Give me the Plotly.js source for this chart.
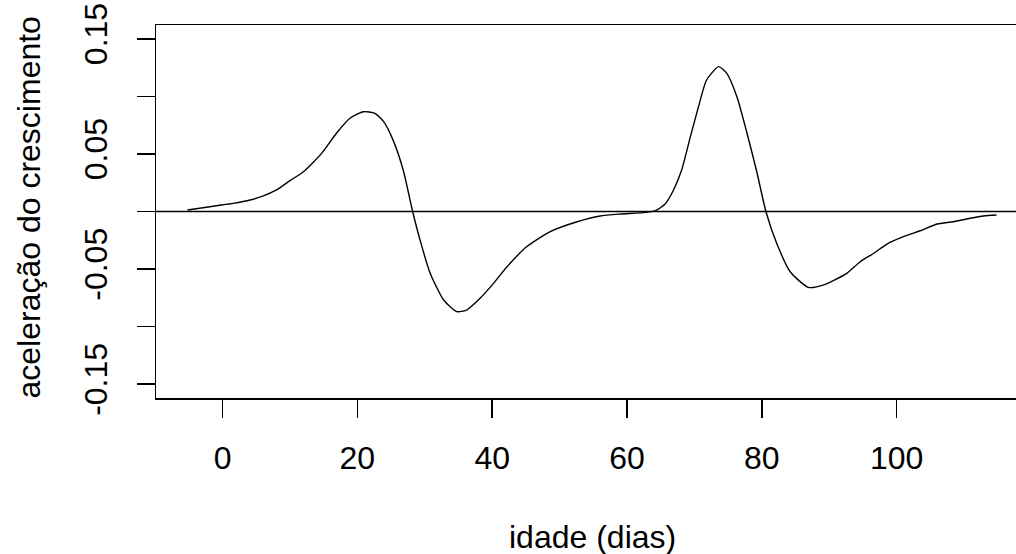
<!DOCTYPE html>
<html>
<head>
<meta charset="utf-8">
<script src="https://cdn.plot.ly/plotly-3.0.1.min.js"></script>
<style>html,body{margin:0;padding:0;background:#fff;}#chart{width:1016px;height:554px;}</style>
</head>
<body>
<div id="chart"></div>
<script>
// idade (dias)
const idade = [-5.2,-3.4,-0.9,1.6,4.1,6.05,8.0,10.0,12.0,14.7,16.9,18.9,20.9,22.6,23.9,25.3,26.8,28.2,29.3,30.8,32.8,34.75,36.2,38.2,40.2,42.2,45.1,48.6,52.6,56.0,59.0,62.4,64.2,65.65,66.9,68.1,69.4,70.6,71.8,73.6,74.8,76.3,77.8,79.3,80.6,82.2,84.2,86.9,89.1,90.6,92.6,94.6,96.6,98.5,101.0,103.5,106.0,108.4,110.9,112.9,114.8];
// aceleração do crescimento
const aceleracao = [0.0013,0.0028,0.005,0.0071,0.010,0.0135,0.0187,0.0268,0.0346,0.0505,0.068,0.081,0.0867,0.0853,0.078,0.062,0.036,0,-0.0248,-0.0537,-0.0769,-0.087,-0.0856,-0.0754,-0.0624,-0.048,-0.0306,-0.0175,-0.0089,-0.0039,-0.0022,-0.001,0.0007,0.0065,0.0187,0.036,0.065,0.091,0.1142,0.1258,0.120,0.0997,0.068,0.0332,0,-0.0276,-0.0523,-0.0659,-0.0639,-0.060,-0.0537,-0.0436,-0.0363,-0.0285,-0.0219,-0.0167,-0.0109,-0.0089,-0.0059,-0.0039,-0.003];
const xTickVals = [0,20,40,60,80,100];
const xTickText = ['0','20','40','60','80','100'];
const yTickVals = [-0.15,-0.10,-0.05,0,0.05,0.10,0.15];
const yTickText = ['-0.15','','-0.05','','0.05','','0.15'];
const hLine = 0;
const xTitle = 'idade (dias)';
const yTitle = 'aceleração do crescimento';

const font = {family: '"Liberation Sans", Arial, sans-serif', size: 32, color: '#000'};

const trace = {
  x: idade, y: aceleracao, type: 'scatter', mode: 'lines',
  line: {color: '#000', width: 1.4, shape: 'spline', smoothing: 0.6},
  hoverinfo: 'skip'
};

const layout = {
  width: 1016, height: 554,
  margin: {l: 156, r: 0, t: 25, b: 156},
  paper_bgcolor: '#fff', plot_bgcolor: '#fff',
  showlegend: false,
  font: font,
  xaxis: {
    range: [-9.87, 117.7], showgrid: false, zeroline: false,
    showline: true, mirror: true, linecolor: '#000', linewidth: 1.5,
    ticks: 'outside', ticklen: 18, tickwidth: 1.5, tickcolor: '#000',
    tickvals: xTickVals, ticktext: xTickText, tickfont: font,
    ticklabelstandoff: 13
  },
  yaxis: {
    range: [-0.162, 0.162], showgrid: false, zeroline: false,
    showline: true, mirror: false, linecolor: '#000', linewidth: 1.5,
    ticks: 'outside', ticklen: 18, tickwidth: 1.5, tickcolor: '#000',
    tickvals: yTickVals, ticktext: yTickText, tickfont: font, tickangle: -90,
    ticklabelstandoff: 17
  },
  annotations: [
    {text: xTitle, xref: 'paper', yref: 'paper', x: 0.5, y: 0, xshift: 6, yshift: -139,
     xanchor: 'center', yanchor: 'middle', showarrow: false, font: font},
    {text: yTitle, xref: 'paper', yref: 'paper', x: 0, y: 0.5, xshift: -128, yshift: 4,
     xanchor: 'center', yanchor: 'middle', textangle: -90, showarrow: false, font: font}
  ],
  shapes: [{
    type: 'line', xref: 'paper', x0: 0, x1: 1, yref: 'y', y0: hLine, y1: hLine,
    line: {color: '#000', width: 1.5}
  }]
};

Plotly.newPlot('chart', [trace], layout, {displayModeBar: false, staticPlot: true});
</script>
</body>
</html>
